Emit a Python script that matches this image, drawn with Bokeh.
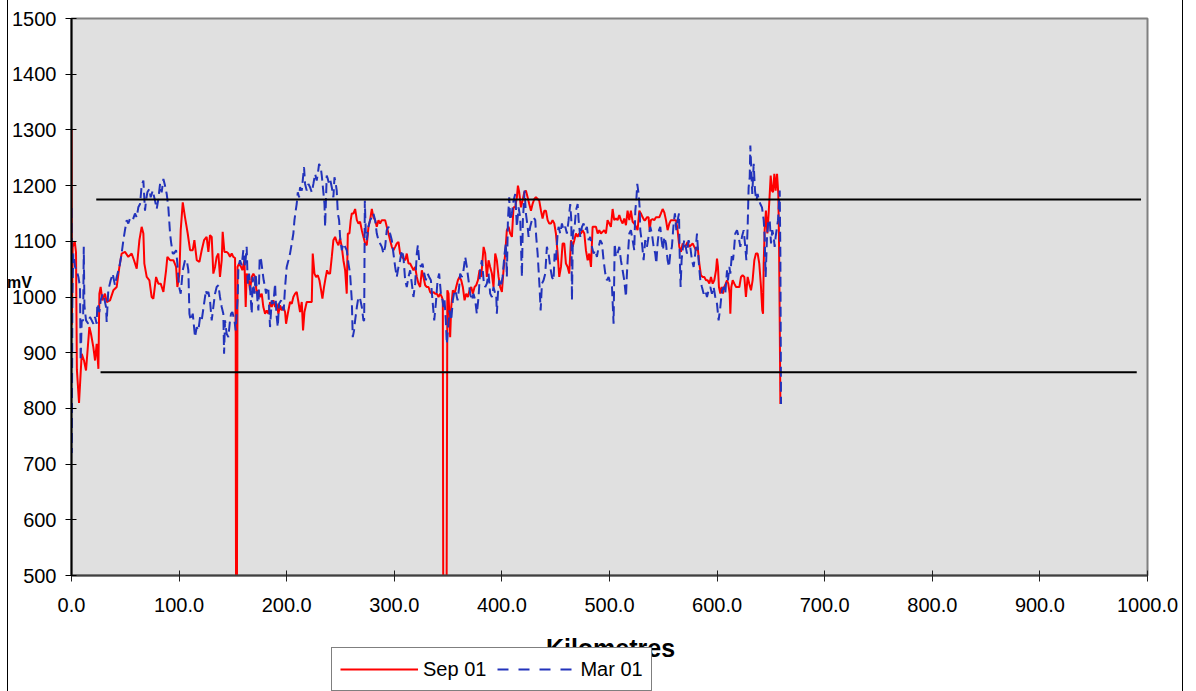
from bokeh.plotting import figure
from bokeh.layouts import column
from bokeh.models import Range1d, Label, Legend, LegendItem, FixedTicker, PrintfTickFormatter
from bokeh.embed import file_html
from bokeh.resources import INLINE

# ---------------- data ----------------
x_ticks = [0, 100, 200, 300, 400, 500, 600, 700, 800, 900, 1000]
y_ticks = [500, 600, 700, 800, 900, 1000, 1100, 1200, 1300, 1400, 1500]

upper_km = [23, 994]
upper_mv = [1175, 1175]
lower_km = [27, 990]
lower_mv = [865, 865]

sep_km = [0, 0.3, 1.1, 3.0, 4.2, 5.0, 7.0, 9.5, 11.6, 13.5, 16.6, 18.1, 20.3, 21.9, 23.4, 25.0, 25.9, 27.1, 28.7, 31.1,
          32.7, 35.8, 38.9, 42.0, 44.5, 46.6, 49.7, 52.8, 55.9, 58.1, 60.6, 63.1, 65.2, 66.8, 67.7, 69.9, 72.4, 74.5, 76.1, 78.6,
          80.7, 82.9, 85.4, 87.9, 89.1, 91.6, 94.7, 97.2, 98.4, 100.3, 101.5, 103.4, 105.5, 108.0, 110.2, 112.7, 114.2, 116.4, 118.9, 121.0,
          123.2, 125.6, 127.2, 128.7, 130.3, 131.8, 133.4, 134.9, 136.5, 138.0, 139.6, 140.5, 142.1, 144.2, 145.8, 147.3, 148.9, 150.4, 152.0, 152.6,
          153.0, 153.6, 154.3, 155.7, 157.6, 158.8, 160.7, 161.9, 162.8, 164.4, 165.9, 167.5, 169.0, 170.6, 172.1, 173.7, 175.2, 176.8, 178.3, 179.9,
          181.4, 183.0, 184.5, 186.1, 187.6, 189.2, 190.7, 192.3, 193.8, 195.4, 196.9, 198.5, 199.4, 201.0, 203.1, 204.7, 206.2, 207.8, 209.3, 210.9,
          212.4, 214.0, 215.2, 216.5, 218.6, 220.8, 223.3, 224.2, 225.8, 227.3, 228.9, 230.4, 232.0, 233.2, 234.7, 236.3, 237.5, 238.8, 240.3, 241.9,
          243.4, 245.0, 246.5, 248.1, 249.6, 251.2, 252.7, 254.3, 255.8, 256.8, 258.3, 259.5, 260.5, 262.1, 263.6, 265.2, 266.7, 268.2, 269.8, 271.3,
          272.9, 274.4, 276.0, 277.5, 279.1, 280.6, 282.2, 283.7, 285.3, 286.8, 288.4, 289.9, 291.5, 293.0, 294.6, 296.1, 297.7, 299.2, 300.8, 302.3,
          303.9, 305.4, 307.0, 308.5, 310.1, 311.6, 313.2, 314.7, 316.3, 317.8, 319.4, 320.9, 322.5, 324.0, 325.6, 327.1, 328.7, 330.2, 331.8, 333.3,
          334.9, 336.4, 338.0, 339.5, 341.1, 342.6, 344.2, 345.1, 345.6, 348.4, 349.3, 350.4, 351.9, 352.9, 354.4, 356.0, 357.5, 359.1, 360.6, 362.2,
          363.7, 365.3, 366.8, 368.4, 369.9, 371.5, 373.0, 374.6, 376.1, 377.7, 379.2, 380.8, 382.0, 383.0, 384.5, 386.0, 387.6, 389.1, 390.7, 392.2,
          393.8, 395.3, 396.9, 398.4, 400.0, 401.5, 403.1, 404.6, 406.2, 407.7, 409.3, 410.8, 412.4, 413.9, 414.9, 416.1, 417.7, 419.2, 420.8, 422.3,
          423.9, 425.4, 427.0, 428.5, 430.1, 431.6, 433.2, 434.7, 436.3, 437.8, 439.4, 440.9, 442.5, 444.0, 445.6, 447.1, 448.7, 450.2, 451.8, 453.3,
          454.9, 456.4, 458.0, 459.5, 461.1, 462.6, 464.2, 465.7, 467.3, 468.8, 470.4, 471.9, 473.5, 475.0, 476.6, 478.1, 479.7, 481.2, 482.8, 484.3,
          485.8, 487.4, 489.0, 490.5, 492.0, 493.6, 495.1, 496.7, 498.2, 499.8, 501.3, 502.9, 504.4, 506.0, 507.5, 509.1, 510.6, 512.2, 513.7, 515.3,
          516.8, 518.4, 519.9, 521.5, 523.0, 524.6, 526.1, 527.7, 529.2, 530.8, 532.3, 533.2, 534.8, 536.3, 537.3, 538.5, 540.1, 541.6, 543.2, 544.7,
          546.3, 547.8, 549.4, 550.9, 552.5, 554.0, 555.6, 557.1, 558.7, 560.2, 561.8, 563.3, 564.9, 566.4, 568.0, 569.5, 571.1, 572.6, 574.2, 575.7,
          577.3, 578.8, 580.4, 581.9, 583.5, 585.0, 586.6, 588.1, 589.7, 591.2, 592.8, 594.3, 595.9, 597.4, 599.0, 599.9, 600.8, 601.7, 603.0, 604.2,
          605.5, 606.7, 608.0, 609.2, 610.4, 611.7, 612.3, 613.2, 614.5, 616.0, 617.6, 619.1, 620.7, 622.2, 623.7, 625.3, 626.8, 628.4, 629.9, 631.5,
          633.0, 634.6, 636.1, 637.7, 639.2, 640.8, 642.0, 642.7, 643.3, 644.2, 645.4, 646.7, 647.9, 648.9, 649.8, 651.0, 652.0, 653.2, 654.4, 655.7,
          656.9, 657.5, 658.2, 658.8]
sep_mv = [1300, 950, 1090, 1100, 1080, 870, 810, 898, 886, 868, 946, 934, 910, 886, 916, 871, 1006, 1018, 994, 1006,
          991, 994, 1012, 1018, 1054, 1078, 1081, 1072, 1078, 1066, 1051, 1102, 1126, 1114, 1060, 1036, 1030, 1000, 997, 1036,
          1024, 1024, 1009, 1048, 1072, 1066, 1066, 1054, 1018, 1042, 1120, 1170, 1143, 1114, 1084, 1084, 1102, 1066, 1063, 1084,
          1102, 1108, 1081, 1111, 1108, 1042, 1054, 1072, 1078, 1036, 1066, 1117, 1081, 1081, 1078, 1072, 1078, 1072, 1070, 930,
          300, 300, 1054, 1060, 1054, 1048, 1066, 982, 1042, 1036, 1012, 1036, 1042, 1036, 1006, 1012, 1000, 1006, 982, 970,
          976, 970, 991, 982, 994, 982, 988, 970, 985, 976, 982, 973, 952, 970, 991, 988, 1000, 1006, 1009, 991,
          973, 991, 940, 973, 991, 991, 991, 1078, 1042, 1036, 1039, 1030, 1012, 997, 1018, 1036, 1048, 1042, 1042, 1072,
          1102, 1108, 1099, 1093, 1105, 1090, 1066, 1048, 1006, 1114, 1114, 1138, 1150, 1150, 1158, 1138, 1132, 1135, 1120, 1108,
          1096, 1093, 1126, 1138, 1158, 1143, 1138, 1126, 1138, 1132, 1138, 1138, 1138, 1126, 1114, 1102, 1090, 1084, 1090, 1096,
          1099, 1078, 1072, 1069, 1066, 1078, 1060, 1060, 1054, 1048, 1054, 1036, 1024, 1018, 1048, 1036, 1021, 1018, 1018, 1009,
          1006, 1009, 1006, 1006, 1000, 1006, 1000, 994, 300, 300, 1012, 1006, 928, 982, 1012, 1006, 1018, 1030, 1036, 1030,
          1018, 994, 1006, 1000, 1012, 1018, 1006, 1018, 1021, 1030, 1048, 1036, 1066, 1090, 1078, 1036, 1066, 1054, 1042, 1018,
          1078, 1066, 1036, 1018, 1009, 1048, 1078, 1120, 1126, 1114, 1108, 1161, 1161, 1179, 1200, 1188, 1161, 1173, 1188, 1191,
          1179, 1167, 1155, 1167, 1176, 1179, 1176, 1173, 1155, 1141, 1155, 1155, 1138, 1132, 1132, 1138, 1132, 1114, 1078, 1036,
          1054, 1096, 1096, 1060, 1054, 1042, 1102, 1090, 1102, 1114, 1108, 1114, 1114, 1120, 1114, 1084, 1066, 1078, 1054, 1126,
          1126, 1126, 1114, 1120, 1114, 1117, 1120, 1114, 1138, 1132, 1126, 1158, 1138, 1141, 1138, 1147, 1138, 1132, 1141, 1129,
          1155, 1138, 1155, 1135, 1132, 1126, 1120, 1155, 1150, 1143, 1138, 1138, 1143, 1143, 1120, 1138, 1140, 1138, 1143, 1143,
          1143, 1150, 1158, 1152, 1138, 1120, 1132, 1138, 1138, 1138, 1138, 1120, 1090, 1081, 1096, 1090, 1093, 1099, 1090, 1093,
          1096, 1090, 1084, 1090, 1060, 1039, 1036, 1036, 1030, 1030, 1024, 1036, 1024, 1030, 1048, 1069, 1054, 1018, 1006, 1018,
          1006, 1018, 1024, 1030, 1024, 1006, 970, 1018, 1030, 1024, 1018, 1018, 1018, 1036, 1039, 1036, 1000, 1036, 1024, 1012,
          1030, 1066, 1078, 1078, 1060, 1018, 976, 970, 1060, 1120, 1155, 1114, 1150, 1185, 1218, 1191, 1188, 1221, 1191, 1221,
          1185, 1108, 958, 808]

mar_km = [0.0, 0.3, 0.8, 1.7, 3.3, 4.8, 6.4, 7.9, 8.5, 9.5, 10.8, 11.4, 12.0, 13.5, 15.6, 17.2, 18.8, 20.3, 21.9, 23.4,
          24.0, 25.0, 25.9, 27.1, 29.0, 30.2, 32.1, 32.7, 34.2, 36.4, 38.3, 40.4, 42.0, 44.5, 46.6, 48.2, 49.7, 51.3, 52.8, 54.4,
          56.9, 59.0, 60.6, 62.1, 63.7, 65.2, 66.8, 68.3, 69.3, 70.5, 72.4, 73.6, 75.5, 77.6, 79.2, 80.7, 82.3, 83.8, 85.4, 86.9,
          88.5, 90.0, 91.6, 92.5, 94.1, 95.3, 97.2, 98.4, 100.0, 101.5, 103.4, 105.5, 107.1, 108.6, 109.6, 110.8, 112.7, 114.8, 116.4, 117.9,
          119.5, 121.0, 123.2, 125.0, 125.6, 127.2, 128.7, 130.3, 131.8, 133.4, 134.9, 136.5, 138.0, 139.6, 141.1, 141.8, 142.7, 144.2, 145.8, 147.3,
          148.3, 149.5, 151.4, 152.6, 153.5, 154.5, 155.1, 156.6, 158.2, 159.7, 161.3, 162.8, 163.8, 165.0, 165.9, 167.5, 168.4, 170.0, 171.2, 172.8,
          173.7, 174.9, 176.2, 177.4, 178.6, 179.9, 180.8, 181.7, 183.0, 184.5, 186.1, 187.6, 189.2, 190.4, 191.7, 192.9, 194.8, 196.0, 197.2, 198.5,
          200.0, 201.6, 203.1, 204.7, 206.2, 207.2, 208.4, 209.3, 210.3, 211.5, 212.4, 214.0, 214.9, 216.1, 217.1, 218.6, 220.2, 221.7, 223.3, 224.8,
          226.4, 227.9, 228.9, 230.1, 231.6, 232.6, 234.1, 235.1, 235.7, 237.2, 238.2, 239.4, 240.6, 241.9, 243.4, 244.4, 245.6, 246.5, 247.5, 248.7,
          249.6, 251.2, 252.7, 254.3, 255.8, 257.4, 258.9, 260.5, 261.4, 262.6, 263.6, 265.2, 266.7, 268.2, 269.8, 271.3, 272.0, 272.6, 273.5, 274.4,
          276.0, 277.5, 279.1, 280.6, 282.2, 283.7, 285.3, 286.8, 288.4, 289.9, 291.5, 293.0, 294.6, 296.1, 297.7, 299.2, 300.8, 302.3, 303.9, 305.4,
          307.0, 308.5, 310.1, 311.6, 313.2, 314.7, 316.3, 317.8, 319.4, 320.9, 321.9, 323.1, 324.7, 326.2, 327.8, 329.3, 330.9, 332.4, 334.0, 335.5,
          337.1, 338.6, 340.2, 341.7, 343.3, 344.8, 345.7, 346.7, 347.9, 348.8, 350.1, 351.3, 352.9, 354.4, 356.0, 357.5, 358.8, 360.3, 361.2, 362.8,
          364.3, 365.9, 367.4, 369.0, 370.5, 372.1, 373.6, 375.2, 376.7, 378.3, 379.8, 381.4, 383.0, 384.5, 386.0, 387.6, 389.1, 390.7, 392.2, 393.8,
          394.7, 395.3, 396.3, 397.5, 399.1, 400.6, 402.5, 403.7, 404.6, 405.6, 406.8, 407.7, 409.3, 410.8, 412.4, 413.9, 415.5, 417.0, 418.6, 419.5,
          421.1, 422.3, 423.9, 424.8, 426.3, 427.9, 429.4, 431.0, 431.9, 433.2, 434.1, 435.0, 436.0, 437.2, 438.7, 440.3, 441.8, 443.4, 444.9, 446.5,
          448.0, 449.0, 450.2, 451.8, 452.7, 454.2, 455.8, 457.3, 458.9, 460.4, 462.0, 463.5, 464.5, 465.1, 466.0, 467.6, 468.8, 470.4, 471.3, 472.8,
          474.4, 475.9, 477.5, 479.0, 480.6, 482.1, 483.7, 485.2, 486.8, 488.3, 489.9, 491.4, 493.0, 494.5, 496.1, 497.6, 499.2, 500.7, 502.3, 503.8,
          504.8, 506.0, 507.5, 509.1, 510.6, 512.2, 513.7, 515.3, 516.2, 517.2, 518.4, 519.9, 521.5, 523.0, 524.0, 524.9, 525.8, 527.1, 528.0, 528.6,
          530.2, 531.7, 533.2, 534.8, 536.3, 537.9, 539.4, 541.0, 542.5, 543.5, 544.7, 546.0, 547.2, 548.4, 549.7, 550.9, 552.5, 554.0, 555.3, 556.5,
          558.0, 559.6, 560.8, 562.1, 563.3, 564.6, 565.2, 566.1, 567.0, 568.3, 569.5, 570.8, 572.0, 573.5, 575.1, 576.6, 578.2, 579.7, 581.3, 582.8,
          584.4, 585.9, 587.5, 589.0, 590.6, 592.1, 593.7, 595.2, 596.8, 598.3, 599.9, 601.4, 603.0, 604.5, 606.1, 607.6, 609.2, 610.1, 611.4, 612.3,
          613.8, 614.8, 615.7, 616.9, 618.5, 620.0, 621.6, 623.1, 624.7, 626.2, 627.2, 628.4, 629.3, 630.3, 630.9, 631.8, 632.7, 634.0, 635.2, 636.5,
          637.7, 638.9, 640.2, 641.7, 643.3, 644.2, 645.1, 646.4, 647.6, 648.9, 650.1, 651.3, 652.6, 653.5, 654.4, 655.7, 656.6, 657.5, 658.2, 658.8,
          659.4]
mar_mv = [1160, 720, 1000, 1078, 1054, 1048, 1036, 1018, 886, 958, 958, 1090, 985, 958, 952, 964, 958, 952, 964, 952,
          988, 982, 973, 994, 1006, 1000, 982, 955, 1012, 1030, 1042, 1021, 1036, 1054, 1078, 1102, 1120, 1138, 1132, 1141,
          1138, 1150, 1143, 1161, 1167, 1200, 1209, 1155, 1173, 1188, 1194, 1179, 1191, 1173, 1158, 1176, 1203, 1188, 1212, 1200,
          1185, 1161, 1114, 1099, 1078, 1078, 1084, 1060, 1018, 1006, 1048, 1066, 1066, 1048, 970, 958, 970, 928, 946, 940,
          964, 958, 988, 1012, 1006, 1009, 994, 958, 982, 1006, 1018, 1021, 1000, 982, 970, 898, 958, 934, 928, 958,
          970, 973, 958, 940, 970, 1000, 1054, 1066, 1057, 1084, 1054, 1090, 1024, 1042, 1018, 970, 1036, 1006, 1042, 994,
          976, 1072, 1066, 1048, 1030, 1018, 1006, 1018, 1012, 946, 994, 988, 1024, 970, 946, 988, 994, 982, 976, 1018,
          1054, 1066, 1078, 1096, 1114, 1138, 1155, 1167, 1188, 1179, 1197, 1191, 1209, 1233, 1203, 1191, 1203, 1197, 1188, 1203,
          1221, 1209, 1221, 1239, 1233, 1218, 1188, 1167, 1126, 1218, 1212, 1203, 1209, 1197, 1179, 1215, 1203, 1191, 1150, 1138,
          1108, 1084, 1096, 1090, 1084, 1060, 1042, 994, 928, 940, 958, 982, 1000, 997, 982, 958, 958, 1173, 1114, 1102,
          1126, 1138, 1143, 1150, 1138, 1114, 1102, 1096, 1090, 1078, 1090, 1120, 1126, 1114, 1102, 1078, 1054, 1036, 1054, 1066,
          1084, 1072, 1030, 1018, 1036, 1048, 1024, 1000, 1024, 1078, 1093, 1066, 1054, 1060, 1042, 1030, 1042, 1036, 1030, 994,
          958, 988, 1030, 1042, 1006, 994, 982, 994, 958, 916, 946, 976, 958, 994, 1012, 1006, 994, 1018, 1042, 1036,
          1048, 1072, 1054, 1030, 1006, 994, 1006, 994, 970, 1000, 1048, 1066, 1030, 1018, 1024, 1042, 1006, 1000, 1018, 1006,
          1006, 970, 1006, 1030, 1018, 1036, 1078, 1096, 1036, 1138, 1179, 1138, 1150, 1173, 1185, 1126, 1161, 1143, 1036, 1138,
          1191, 1150, 1126, 1108, 1126, 1138, 1143, 1138, 1108, 1078, 1048, 1018, 976, 1024, 1030, 1042, 1090, 1078, 1054, 1036,
          1030, 1078, 1066, 1114, 1126, 1114, 1132, 1120, 1126, 1114, 1138, 1167, 1138, 994, 1114, 1126, 1155, 1167, 1138, 1108,
          1126, 1132, 1120, 1126, 1102, 1108, 1090, 1078, 1084, 1072, 1090, 1102, 1096, 1066, 1042, 1030, 1036, 1024, 1018, 952,
          1096, 1072, 1078, 1090, 1066, 1048, 1030, 1000, 1042, 1078, 1114, 1120, 1102, 1084, 1155, 1173, 1203, 1185, 1161, 1120,
          1096, 1066, 1102, 1090, 1108, 1126, 1114, 1090, 1078, 1060, 1096, 1120, 1126, 1102, 1084, 1108, 1096, 1066, 1054, 1078,
          1090, 1132, 1150, 1120, 1138, 1150, 1078, 1018, 1066, 1090, 1102, 1090, 1078, 1102, 1090, 1066, 1054, 1078, 1114, 1066,
          1030, 1018, 1006, 1012, 1000, 1012, 1018, 1006, 1018, 1000, 988, 958, 982, 1012, 1018, 1006, 1048, 1030, 1054, 1042,
          1078, 1066, 1084, 1114, 1120, 1108, 1090, 1108, 1120, 1090, 1066, 1126, 1197, 1215, 1272, 1227, 1185, 1239, 1191, 1173,
          1185, 1173, 1167, 1161, 1138, 1108, 1036, 1108, 1138, 1138, 1096, 1120, 1108, 1090, 1108, 1126, 1138, 1167, 1191, 1078,
          808]

FONT = "Liberation Sans"
RED = "#ff0000"
BLUE = "#2233bb"
DASH = "10 5"
BORDER_STYLE = {"box-shadow": "inset 7px 0 0 0 #ffffff, inset 8px 0 0 0 #000000, inset -1px 0 0 0 #000000"}

W = 1183
H_MAIN = 630
H_LEG = 691 - H_MAIN
FR_LEFT, FR_RIGHT = 71, 1147

# ---------------- main chart ----------------
p = figure(width=W, height=H_MAIN, x_range=Range1d(0, 1000), y_range=Range1d(500, 1500),
           output_backend="svg", toolbar_location=None,
           min_border_left=FR_LEFT, min_border_right=W - FR_RIGHT, min_border_top=18,
           min_border_bottom=H_MAIN - 18 - 557)
p.styles = BORDER_STYLE
p.background_fill_color = "#e0e0e0"
p.border_fill_alpha = 0
p.outline_line_color = "#808080"
p.outline_line_width = 2
p.grid.visible = False

p.xaxis.ticker = FixedTicker(ticks=x_ticks)
p.yaxis.ticker = FixedTicker(ticks=y_ticks)
p.xaxis.formatter = PrintfTickFormatter(format="%.1f")
for ax in (p.xaxis, p.yaxis):
    ax.major_label_text_font = FONT
    ax.major_label_text_font_size = "20px"
    ax.major_label_text_color = "black"
    ax.minor_tick_line_color = None
    ax.major_tick_in = 5
    ax.major_tick_out = 6
    ax.axis_line_width = 2
p.yaxis.axis_line_color = "#000000"
p.yaxis.major_tick_line_color = "#000000"
p.xaxis.axis_line_color = "#404040"
p.xaxis.major_tick_line_color = "#202020"
p.yaxis.major_label_standoff = 9
p.xaxis.major_label_standoff = 16

p.yaxis.axis_label = "mV\n "
p.yaxis.axis_label_orientation = "horizontal"
p.yaxis.axis_label_text_font = FONT
p.yaxis.axis_label_text_font_style = "bold"
p.yaxis.axis_label_text_font_size = "16px"
p.yaxis.axis_label_text_line_height = 1.7
p.yaxis.axis_label_text_color = "black"
p.yaxis.axis_label_standoff = -23

r_sep = p.line(sep_km, sep_mv, line_color=RED, line_width=2)
r_mar = p.line(mar_km, mar_mv, line_color=BLUE, line_width=2, line_dash=DASH)
p.line(upper_km, upper_mv, line_color="black", line_width=2)
p.line(lower_km, lower_mv, line_color="black", line_width=2)

# ---------------- bottom strip: axis title + legend ----------------
q = figure(width=W, height=H_LEG, x_range=Range1d(FR_LEFT, FR_RIGHT), y_range=Range1d(0, H_LEG),
           output_backend="svg", toolbar_location=None, x_axis_type=None, y_axis_type=None,
           min_border=0, min_border_left=FR_LEFT, min_border_right=W - FR_RIGHT,
           min_border_top=0, min_border_bottom=0)
q.styles = BORDER_STYLE
q.background_fill_alpha = 0
q.border_fill_alpha = 0
q.outline_line_color = None
q.grid.visible = False

q.add_layout(Label(x=610, y=44, text="Kilometres", text_align="center", text_baseline="middle",
                   text_font=FONT, text_font_style="bold", text_font_size="25px", text_color="black"))

# legend samples (off-screen, used only for the legend key)
d_sep = q.line([-50, -40], [-50, -40], line_color=RED, line_width=2)
d_mar = q.line([-50, -40], [-50, -40], line_color=BLUE, line_width=2, line_dash="11 10")
legend = Legend(items=[LegendItem(label="Sep 01", renderers=[d_sep]),
                       LegendItem(label="Mar 01", renderers=[d_mar])],
                orientation="horizontal", location=(331 - FR_LEFT, 0))
legend.label_text_font = FONT
legend.label_text_font_size = "20px"
legend.label_text_color = "black"
legend.label_height = 26
legend.glyph_width = 78
legend.glyph_height = 20
legend.label_standoff = 5
legend.spacing = 11
legend.padding = 8
legend.margin = 0
legend.border_line_color = "#000000"
legend.border_line_width = 1
legend.background_fill_color = "white"
legend.background_fill_alpha = 1.0
q.add_layout(legend)

layout = column(p, q, spacing=0)
open("out.html", "w").write(file_html(layout, INLINE))
